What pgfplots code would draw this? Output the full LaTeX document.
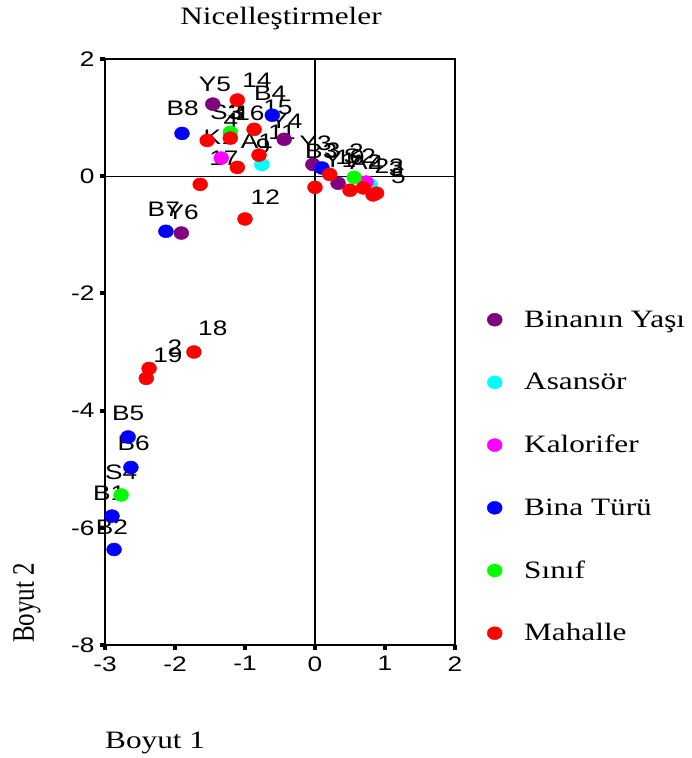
\documentclass[border=0pt]{standalone}
\usepackage{pgfplots}
\pgfplotsset{compat=1.18}
\usepackage{fontspec}
\setmainfont{Liberation Serif}[FakeStretch=1.25]
\newfontfamily\serifplain{Liberation Serif}
\newfontfamily\sansst{Liberation Sans}[FakeStretch=1.25]
\definecolor{cpurple}{HTML}{800080}
\definecolor{ccyan}{HTML}{00FFFF}
\definecolor{cmagenta}{HTML}{FF00FF}
\definecolor{cblue}{HTML}{0000FF}
\definecolor{cgreen}{HTML}{00FF00}
\definecolor{cred}{HTML}{FF0000}
\newcommand{\labfont}{\sansst\fontsize{21}{24}\selectfont}
\begin{document}
\begin{tikzpicture}
\path[use as bounding box] (-105pt,-113pt) rectangle (587pt,645pt);
\begin{axis}[
  at={(0pt,0pt)}, anchor=south west,
  scale only axis, width=350pt, height=586pt,
  xmin=-3, xmax=2, ymin=-8, ymax=2,
  xtick={-3,-2,-1,0,1,2}, ytick={-8,-6,-4,-2,0,2},
  tick pos=left, tick align=outside,
  major tick length=5pt,
  tick style={black, line width=4pt},
  axis line style={black, line width=1.5pt},
  ticklabel style={font=\labfont},
  /pgf/number format/assume math mode=true,
  xticklabel style={yshift=-3pt},
  yticklabel style={xshift=-2pt},
  extra x ticks={0}, extra y ticks={0},
  extra x tick labels={}, extra y tick labels={},
  extra tick style={grid=major, major grid style={black, line width=1.3pt}, tick style={draw=none}},
  clip=false,
  legend cell align=left,
  legend style={draw=none, fill=none,
    at={(axis description cs:1.083,0.2859)}, anchor=west,
    font=\fontsize{25}{30}\selectfont,
    row sep=39.7pt, column sep=22pt,
    nodes={inner sep=0pt, text height=18pt, text depth=5pt}},
  legend image code/.code={\draw[#1] plot coordinates {(8pt,1pt)};},
  every axis plot/.append style={only marks, mark=*, mark size=6.5pt},
]
\addplot[cpurple, mark options={xscale=1.15, fill=cpurple, draw=cpurple}] coordinates {
(-1.46,1.23) (-1.91,-0.97) (-0.44,0.63) (-0.03,0.20) (0.33,-0.12)};
\addlegendentry{Binanın Yaşı}
\addplot[ccyan, mark options={xscale=1.15, fill=ccyan, draw=ccyan}] coordinates {
(-0.76,0.20) (0.79,-0.15)};
\addlegendentry{Asansör}
\addplot[cmagenta, mark options={xscale=1.15, fill=cmagenta, draw=cmagenta}] coordinates {
(-1.34,0.31) (0.73,-0.10)};
\addlegendentry{Kalorifer}
\addplot[cblue, mark options={xscale=1.15, fill=cblue, draw=cblue}] coordinates {
(-1.90,0.73) (-0.61,1.04) (-2.13,-0.94) (0.10,0.14) (-2.67,-4.45) (-2.63,-4.97) (-2.90,-5.80) (-2.87,-6.37)};
\addlegendentry{Bina Türü}
\addplot[cgreen, mark options={xscale=1.15, fill=cgreen, draw=cgreen}] coordinates {
(-1.21,0.75) (-2.77,-5.44) (0.56,-0.02)};
\addlegendentry{Sınıf}
\addplot[cred, mark options={xscale=1.15, fill=cred, draw=cred}] coordinates {
(-1.11,1.30) (-0.87,0.80) (-1.54,0.61) (-1.21,0.65) (-0.80,0.36) (-1.11,0.15)
(-1.64,-0.14) (-1.00,-0.73) (-1.73,-3.00) (-2.37,-3.28) (-2.41,-3.45)
(0.00,-0.19) (0.21,0.03) (0.50,-0.24) (0.69,-0.20) (0.83,-0.32) (0.88,-0.29)};
\addlegendentry{Mahalle}
% point labels
\begin{scope}[every node/.style={font=\labfont, inner sep=0pt}]
\node at (axis cs:-1.43,1.57) {Y5};
\node at (axis cs:-0.83,1.64) {14};
\node at (axis cs:-0.64,1.42) {B4};
\node at (axis cs:-0.53,1.18) {15};
\node at (axis cs:-0.41,0.94) {Y4};
\node at (axis cs:-0.47,0.75) {11};
\node at (axis cs:-1.89,1.16) {B8};
\node at (axis cs:-1.27,1.09) {S3};
\node at (axis cs:-1.11,1.09) {3};
\node at (axis cs:-1.20,0.96) {4};
\node at (axis cs:-0.93,1.08) {16};
\node at (axis cs:-1.36,0.67) {K1};
\node at (axis cs:-0.83,0.60) {A1};
\node at (axis cs:-0.74,0.51) {9};
\node at (axis cs:-1.30,0.31) {17};
\node at (axis cs:-0.71,-0.36) {12};
\node at (axis cs:-2.16,-0.56) {B7};
\node at (axis cs:-1.89,-0.61) {Y6};
\node at (axis cs:-1.46,-2.59) {18};
\node at (axis cs:-2.00,-2.92) {2};
\node at (axis cs:-2.10,-3.05) {19};
\node at (axis cs:-2.67,-4.04) {B5};
\node at (axis cs:-2.59,-4.56) {B6};
\node at (axis cs:-2.77,-5.05) {S4};
\node at (axis cs:-2.94,-5.41) {B1};
\node at (axis cs:-2.90,-5.99) {B2};
\node at (axis cs:0.01,0.56) {Y3};
\node at (axis cs:0.09,0.43) {B3};
\node at (axis cs:0.26,0.44) {3};
\node at (axis cs:0.36,0.27) {Y1};
\node at (axis cs:0.50,0.32) {10};
\node at (axis cs:0.59,0.43) {2};
\node at (axis cs:0.64,0.34) {S2};
\node at (axis cs:0.73,0.24) {A2};
\node at (axis cs:0.87,0.22) {4};
\node at (axis cs:1.06,0.17) {23};
\node at (axis cs:1.16,0.12) {3};
\node at (axis cs:1.19,0.00) {5};
\end{scope}
\end{axis}
\node[anchor=base, font=\fontsize{25}{30}\selectfont] at (176pt,620pt) {Nicelleştirmeler};
\node[anchor=base west, inner sep=0pt, font=\fontsize{25}{30}\selectfont] at (0pt,-103pt) {Boyut 1};
\node[anchor=south west, inner sep=0pt] at (-92pt,2pt) {\rotatebox{90}{\scalebox{1}[1.25]{\serifplain\fontsize{25}{30}\selectfont Boyut 2}}};
\end{tikzpicture}
\end{document}
